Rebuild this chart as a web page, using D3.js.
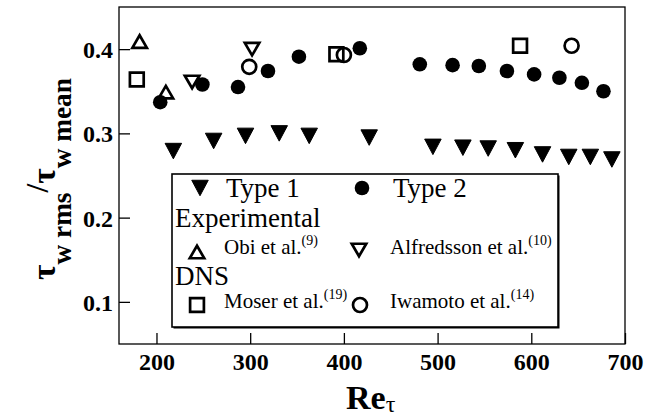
<!DOCTYPE html>
<html>
<head>
<meta charset="utf-8">
<script src="https://cdn.jsdelivr.net/npm/d3@7"></script>
<style>
  body { margin: 0; background: #fff; }
  svg { display: block; font-family: "Liberation Serif", "Times New Roman", serif; }
</style>
</head>
<body>
<svg id="chart" width="660" height="417"></svg>
<script>
// Re_tau positions and tau_w rms / tau_w mean values
const type1Re  = [218, 261, 295, 331, 363, 427, 495, 527, 554, 583, 612, 640, 663, 686];
const type1Val = [0.279, 0.291, 0.297, 0.300, 0.297, 0.295, 0.284, 0.283, 0.282, 0.280, 0.275, 0.272, 0.272, 0.269];

const type2Re  = [204, 249, 287, 319, 352, 417, 481, 516, 544, 574, 603, 630, 654, 677];
const type2Val = [0.337, 0.358, 0.355, 0.374, 0.391, 0.401, 0.382, 0.381, 0.380, 0.374, 0.370, 0.366, 0.360, 0.350];

const obiRe = [182, 210],             obiVal = [0.409, 0.349];
const alfRe = [238, 302],             alfVal = [0.361, 0.400];
const moserRe = [179, 392, 588],      moserVal = [0.364, 0.394, 0.404];
const iwaRe = [299, 400, 643],        iwaVal = [0.379, 0.393, 0.404];

const xTicks = [200, 300, 400, 500, 600, 700];
const yTicks = [0.1, 0.2, 0.3, 0.4];

const svg = d3.select("#chart");
const margin = { top: 7, right: 35, bottom: 73, left: 119 };
const width = 660, height = 417;

const x = d3.scaleLinear().domain([160, 700]).range([margin.left, width - margin.right]);
const y = d3.scaleLinear().domain([0.05, 0.45]).range([height - margin.bottom, margin.top]);

// frame
svg.append("rect")
    .attr("x", x(160)).attr("y", y(0.45))
    .attr("width", x(700) - x(160)).attr("height", y(0.05) - y(0.45))
    .attr("fill", "none").attr("stroke", "#000").attr("stroke-width", 1.3);

// axes with inward ticks
const xAxis = svg.append("g")
    .attr("transform", `translate(0,${y(0.05)})`)
    .call(d3.axisBottom(x).tickValues(xTicks).tickSize(-11).tickPadding(9).tickFormat(d3.format("d")));
const yAxis = svg.append("g")
    .attr("transform", `translate(${x(160)},0)`)
    .call(d3.axisLeft(y).tickValues(yTicks).tickSize(-11).tickPadding(6).tickFormat(d3.format(".1f")));

[xAxis, yAxis].forEach(g => {
    g.select(".domain").remove();
    g.selectAll("line").attr("stroke", "#000").attr("stroke-width", 1.3);
    g.selectAll("text")
        .attr("fill", "#000")
        .style("font-family", "'Liberation Serif', serif")
        .style("font-weight", "bold")
        .style("font-size", "24px");
});
yAxis.selectAll("text").attr("dy", "0.35em");

// marker shapes (centred on their bounding box)
const triDown = (w, h) => `M${-w/2},${-h/2}L${w/2},${-h/2}L0,${h/2}Z`;
const triUp = (w, h) => `M${-w/2},${h/2}L${w/2},${h/2}L0,${-h/2}Z`;
const square = s => `M${-s/2},${-s/2}h${s}v${s}h${-s}Z`;

function drawMarker(g, kind, cx, cy) {
    const open = sel => sel.attr("fill", "none").attr("stroke", "#000").attr("stroke-width", 2.7);
    if (kind === "type1") {
        g.append("path").attr("d", triDown(16.5, 15.5)).attr("transform", `translate(${cx},${cy})`)
            .attr("fill", "#000").attr("stroke", "#000").attr("stroke-width", 1).attr("stroke-linejoin", "round");
    } else if (kind === "type2") {
        g.append("circle").attr("cx", cx).attr("cy", cy).attr("r", 7.3).attr("fill", "#000");
    } else if (kind === "obi") {
        open(g.append("path").attr("d", triUp(14.5, 12.5)).attr("transform", `translate(${cx},${cy})`));
    } else if (kind === "alf") {
        open(g.append("path").attr("d", triDown(14.5, 12.5)).attr("transform", `translate(${cx},${cy})`));
    } else if (kind === "moser") {
        open(g.append("path").attr("d", square(13.8)).attr("transform", `translate(${cx},${cy})`));
    } else if (kind === "iwa") {
        open(g.append("circle").attr("cx", cx).attr("cy", cy).attr("r", 7));
    }
}

const series = [
    { kind: "type1", re: type1Re, val: type1Val },
    { kind: "type2", re: type2Re, val: type2Val },
    { kind: "obi", re: obiRe, val: obiVal },
    { kind: "alf", re: alfRe, val: alfVal },
    { kind: "moser", re: moserRe, val: moserVal },
    { kind: "iwa", re: iwaRe, val: iwaVal }
];

const pts = svg.append("g");
series.forEach(s => {
    s.re.forEach((r, i) => drawMarker(pts, s.kind, x(r), y(s.val[i])));
});

// legend
const lg = svg.append("g");
const lx0 = 172, ly0 = 174, lw = 386, lh = 153;
lg.append("rect").attr("x", lx0 + 1.5).attr("y", ly0 + 1.5).attr("width", lw).attr("height", lh).attr("fill", "#000");
lg.append("rect").attr("x", lx0).attr("y", ly0).attr("width", lw).attr("height", lh)
    .attr("fill", "#fff").attr("stroke", "#000").attr("stroke-width", 1.6);

drawMarker(lg, "type1", 200, 188);
drawMarker(lg, "type2", 362, 188);
drawMarker(lg, "obi", 197, 252);
drawMarker(lg, "alf", 359, 250);
drawMarker(lg, "moser", 197, 305);
drawMarker(lg, "iwa", 360, 305);

function legText(tx, ty, label, size, sup) {
    const t = lg.append("text").attr("x", tx).attr("y", ty).style("font-size", size + "px").text(label);
    if (sup) {
        t.append("tspan").attr("dy", -9).style("font-size", "14px").text(sup);
    }
}
legText(226, 197, "Type 1", 27);
legText(393, 197, "Type 2", 27);
legText(175, 227, "Experimental", 27);
legText(224, 254, "Obi et al.", 21, "(9)");
legText(390, 254, "Alfredsson et al.", 21, "(10)");
legText(175, 285, "DNS", 27);
legText(224, 308, "Moser et al.", 21, "(19)");
legText(390, 308, "Iwamoto et al.", 21, "(14)");

// x title
const xt = svg.append("text").attr("x", 346).attr("y", 409)
    .style("font-weight", "bold").style("font-size", "34px");
xt.append("tspan").text("Re");
xt.append("tspan").attr("dy", 3).style("font-size", "24px").style("font-weight", "normal").text("τ");

// y title; fitted to the box it fills in the figure (x 20..52, y 78..280)
const yt = svg.append("text").style("font-weight", "bold");
const yParts = [
    { s: "τ", size: 32, dy: 0 },
    { s: "w rms", size: 26, dy: 15 },
    { s: "/", size: 30, dy: -22 },
    { s: "τ", size: 32, dy: 7 },
    { s: "w mean", size: 26, dy: 15 }
];
const ySpans = yParts.map(p => yt.append("tspan").text(p.s));
let k = 1, tx = 37, ty = 280;
function layoutY() {
    yt.attr("transform", `translate(${tx},${ty}) rotate(-90)`);
    ySpans.forEach((t, i) => t.attr("dy", yParts[i].dy * k).style("font-size", (yParts[i].size * k) + "px"));
}
for (let it = 0; it < 4; it++) {
    layoutY();
    const b = yt.node().getBoundingClientRect();
    k *= 202 / b.height;
    layoutY();
    const b2 = yt.node().getBoundingClientRect();
    tx += 20 - b2.left;
    ty += 280 - b2.bottom;
}
layoutY();
</script>
</body>
</html>
